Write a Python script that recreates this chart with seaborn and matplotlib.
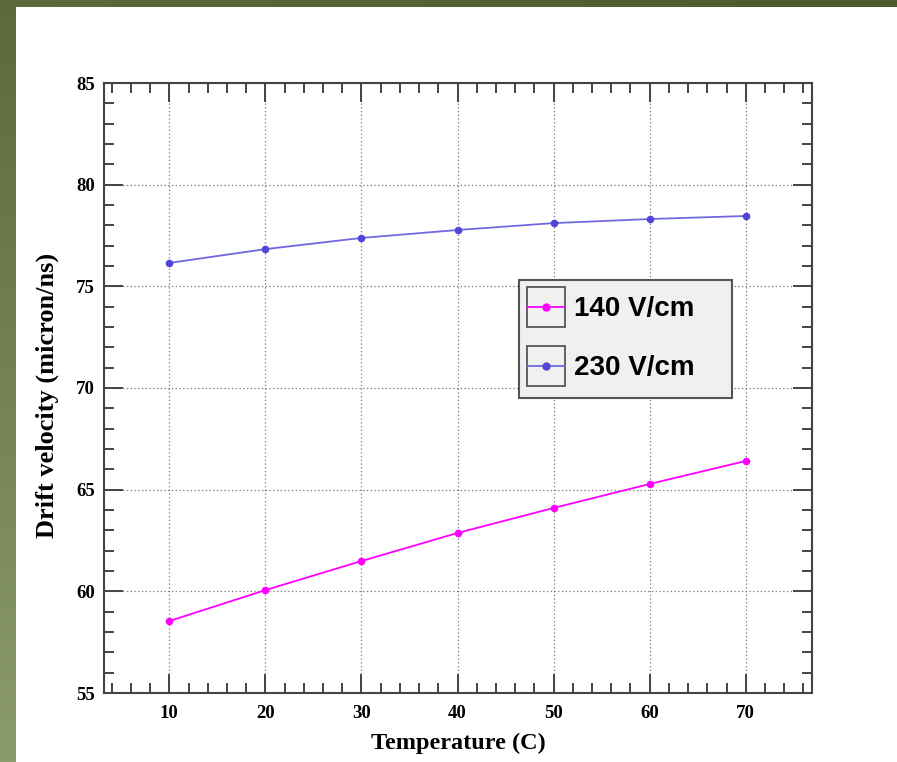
import numpy as np
import pandas as pd
import matplotlib
matplotlib.use("Agg")
import matplotlib.pyplot as plt
from matplotlib.legend_handler import HandlerBase
from matplotlib.patches import Rectangle
from matplotlib.lines import Line2D
from matplotlib.ticker import MultipleLocator
from matplotlib.colors import LinearSegmentedColormap
import seaborn as sns

temperature = [10, 20, 30, 40, 50, 60, 70]
v_140 = [58.54, 60.06, 61.49, 62.87, 64.10, 65.28, 66.41]
v_230 = [76.15, 76.83, 77.38, 77.77, 78.11, 78.31, 78.46]
series_labels = ["140 V/cm", "230 V/cm"]
line_colors = ["#ff00ff", "#7068e0"]
marker_colors = ["#ff00ff", "#5045d6"]
x_ticks = [10, 20, 30, 40, 50, 60, 70]
y_ticks = [55, 60, 65, 70, 75, 80, 85]

df = pd.DataFrame({
    "Temperature": temperature * 2,
    "Velocity": v_140 + v_230,
    "Field": [series_labels[0]] * len(temperature) + [series_labels[1]] * len(temperature),
})

sns.set_theme(style="white")
plt.rcParams["font.family"] = ["Liberation Serif", "DejaVu Serif"]
plt.rcParams["text.color"] = "black"
plt.rcParams["axes.labelcolor"] = "black"
plt.rcParams["xtick.color"] = "black"
plt.rcParams["ytick.color"] = "black"

W, H = 897, 762
fig = plt.figure(figsize=(W / 100, H / 100), dpi=100)
fig.patch.set_facecolor("white")

# decorative border strips
axl = fig.add_axes([0, 0, 15 / W, 1])
cm_left = LinearSegmentedColormap.from_list("l", ["#5e693b", "#8b9b69"])
axl.imshow(np.linspace(0, 1, 256).reshape(-1, 1), aspect="auto", cmap=cm_left,
           extent=[0, 1, 1, 0])
axl.set_axis_off()
axt = fig.add_axes([0, 1 - 7 / H, 1, 7 / H])
cm_top = LinearSegmentedColormap.from_list("t", ["#5e6a3c", "#4d582d"])
axt.imshow(np.linspace(0, 1, 256).reshape(1, -1), aspect="auto", cmap=cm_top)
axt.set_axis_off()

ax = fig.add_axes([104 / W, 1 - 693 / H, 708 / W, 610 / H])
ax.set_facecolor("white")

sns.lineplot(data=df, x="Temperature", y="Velocity", hue="Field",
             palette=dict(zip(series_labels, line_colors)), ax=ax,
             linewidth=1.3, legend=False, zorder=3)
for lab, mc in zip(series_labels, marker_colors):
    sub = df[df["Field"] == lab]
    sns.scatterplot(data=sub, x="Temperature", y="Velocity", ax=ax, color=mc,
                    s=30, edgecolor=mc, linewidth=0, zorder=4, legend=False)

ax.set_xlim(3.2, 76.9)
ax.set_ylim(55, 85)
ax.set_xticks(x_ticks)
ax.set_yticks(y_ticks)
ax.xaxis.set_minor_locator(MultipleLocator(2))
ax.yaxis.set_minor_locator(MultipleLocator(1))
ax.tick_params(which="both", direction="in", top=True, right=True,
               bottom=True, left=True, color="#444444", width=1.4)
ax.tick_params(which="major", length=14, labelsize=13.5)
ax.tick_params(axis="x", which="major", pad=8.5)
ax.tick_params(axis="y", which="major", pad=6.5)
ax.tick_params(which="minor", length=7)
for lbl in ax.get_xticklabels() + ax.get_yticklabels():
    lbl.set_fontweight("bold")
ax.grid(True, which="major", linestyle=(0, (1, 2)), color="#777777", linewidth=0.9)
for sp in ax.spines.values():
    sp.set_color("#444444")
    sp.set_linewidth(1.5)

ax.set_xlabel("Temperature (C)", fontsize=17.5, fontweight="bold")
ax.set_ylabel("Drift velocity (micron/ns)", fontsize=19, fontweight="bold")
ax.xaxis.set_label_coords(0.5, (693 - 733) / 610)
ax.yaxis.set_label_coords((59 - 104) / 708, 0.487)


class BoxedHandler(HandlerBase):
    def create_artists(self, legend, orig_handle, xdescent, ydescent, width,
                       height, fontsize, trans):
        cy = height / 2 - ydescent
        bh = 28.8
        x0 = -xdescent - 6.2
        rect = Rectangle((x0, cy - bh / 2), width, bh, facecolor="none",
                         edgecolor="#555555", linewidth=1.3, transform=trans)
        line = Line2D([x0, x0 + width], [cy, cy],
                      color=orig_handle.get_color(), linewidth=1.3, transform=trans)
        mk = Line2D([x0 + width / 2], [cy], marker="o", markersize=5,
                    color=orig_handle.get_markerfacecolor(), linestyle="none",
                    transform=trans)
        return [rect, line, mk]


handles = [Line2D([], [], color=lc, marker="o", markerfacecolor=mc)
           for lc, mc in zip(line_colors, marker_colors)]
leg = ax.legend(handles, series_labels, loc="upper left",
                bbox_to_anchor=(0.586, 0.677, 0.301, 0.0), mode="expand",
                handler_map={Line2D: BoxedHandler()},
                prop={"family": "Liberation Sans", "weight": "bold", "size": 20},
                frameon=True, fancybox=False, handlelength=1.37,
                handletextpad=0.02, labelspacing=1.19, borderpad=0.59,
                borderaxespad=0, framealpha=1, labelcolor="black")
leg.get_frame().set_facecolor("#f0f0f0")
leg.get_frame().set_edgecolor("#555555")
leg.get_frame().set_linewidth(1.5)
leg.set_zorder(10)

fig.savefig("out.png", dpi=100)
